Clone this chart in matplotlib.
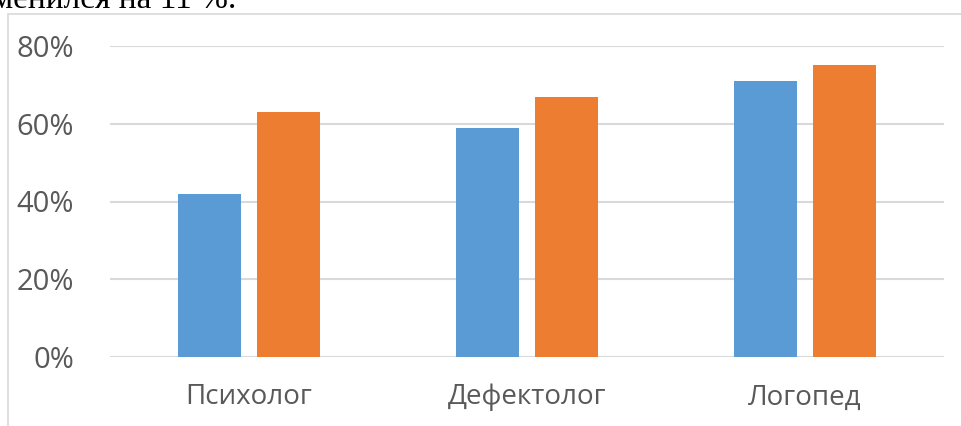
import numpy as np
import matplotlib.pyplot as plt
from matplotlib.patches import Rectangle
from matplotlib.ticker import FuncFormatter

categories = ["Психолог", "Дефектолог", "Логопед"]
series_1 = [42, 59, 71]
series_2 = [63, 67, 75]
yticks = [0, 20, 40, 60, 80]

plt.rcParams['font.family'] = ['Open Sans', 'DejaVu Sans']

W, H = 962, 426
fig = plt.figure(figsize=(W / 100, H / 100), dpi=100)

# рамка диаграммы (обрезана справа и снизу)
fig.patches.append(Rectangle((8 / W, -0.1), 2, 1 - 14 / H + 0.1, transform=fig.transFigure,
                             fill=False, edgecolor="#d9d9d9", linewidth=1.2))

# кусок текста документа над диаграммой
fig.text(-8 / W, 1 - 8 / H, "менился на 11 %.", family="Liberation Serif",
         fontsize=24, color="black", ha="left", va="baseline")

ax = fig.add_axes([110 / W, 1 - 357 / H, 834 / W, 311 / H])

x = np.arange(len(categories))
w = 0.227
ax.bar(x - 0.143, series_1, w, color="#5b9bd5", zorder=3)
ax.bar(x + 0.143, series_2, w, color="#ed7d31", zorder=3)

ax.set_xlim(-0.5, 2.5)
ax.set_ylim(0, 80)
ax.set_yticks(yticks)
ax.yaxis.set_major_formatter(FuncFormatter(lambda v, p: f"{v:.0f}%"))
ax.grid(axis="y", color="#d9d9d9", linewidth=1.5, zorder=0)
ax.set_xticks(x)
ax.set_xticklabels(categories)
ax.tick_params(length=0, labelsize=20, labelcolor="#595959")
ax.tick_params(axis="y", pad=26, labelsize=21)
ax.tick_params(axis="x", pad=19)
for s in ax.spines.values():
    s.set_visible(False)

fig.savefig("out.png", dpi=100)
